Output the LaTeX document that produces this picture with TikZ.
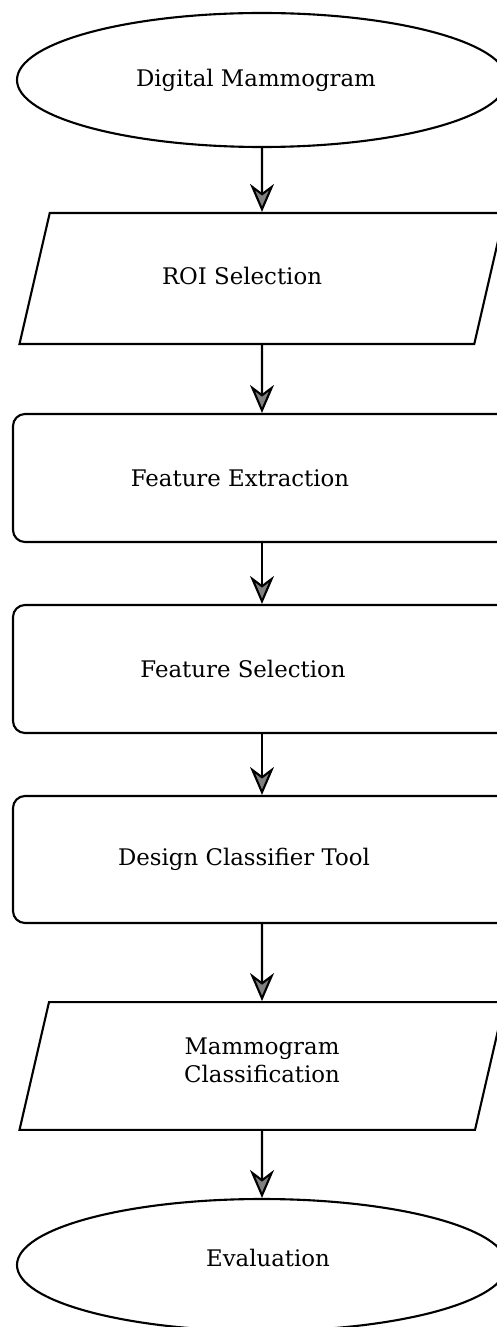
\documentclass[tikz,border=0pt]{standalone}
\usepackage{fontspec}
\setmainfont{DejaVu Serif}
\usetikzlibrary{shapes.geometric,arrows.meta}

\tikzset{
  terminal/.style={draw, line width=1.2pt, ellipse, minimum width=9.8cm, minimum height=2.68cm, align=center},
  iobox/.style={draw, line width=1.2pt, trapezium, trapezium left angle=77, trapezium right angle=103,
    trapezium stretches body=true, minimum width=9.7cm, align=center},
  procbox/.style={draw, line width=1.2pt, rectangle, rounded corners=0.24cm, minimum width=9.96cm, align=center},
  flow/.style={line width=1.2pt, -{Stealth[length=0.56cm, width=0.48cm, inset=0.18cm, fill=gray]}}
}

\begin{document}
\begin{tikzpicture}[font=\fontsize{13}{16}\selectfont]
% page size of the reference
\useasboundingbox (0,0) rectangle (9.94,-26.54);

% the steps, top to bottom
\node[terminal] (dm) at (5.24,-1.6) {Digital Mammogram\hspace{0.24cm}};
\node[iobox, text height=0.35cm, text depth=0.1cm, inner ysep=1.085cm] (roi) at (5.24,-5.57) {ROI Selection\hspace{0.8cm}};
\node[procbox, minimum height=2.56cm] (fe) at (5.24,-9.56) {Feature Extraction\hspace{0.88cm}};
\node[procbox, minimum height=2.56cm] (fs) at (5.24,-13.38) {Feature Selection\hspace{0.76cm}};
\node[procbox, minimum height=2.54cm] (dct) at (5.24,-17.19) {Design Classifier Tool\hspace{0.72cm}};
\node[iobox, inner ysep=0.71cm] (mc) at (5.24,-21.32) {Mammogram\\Classification\rule[-0.24cm]{0pt}{0pt}};
\node[terminal, minimum height=2.64cm] (ev) at (5.24,-25.3) {\hspace{0.24cm}Evaluation\rule[-0.28cm]{0pt}{0pt}};

% connectors
\draw[flow] (dm) -- (roi);
\draw[flow] (roi) -- (fe);
\draw[flow] (fe) -- (fs);
\draw[flow] (fs) -- (dct);
\draw[flow] (dct) -- (mc);
\draw[flow] (mc) -- (ev);
\end{tikzpicture}
\end{document}
